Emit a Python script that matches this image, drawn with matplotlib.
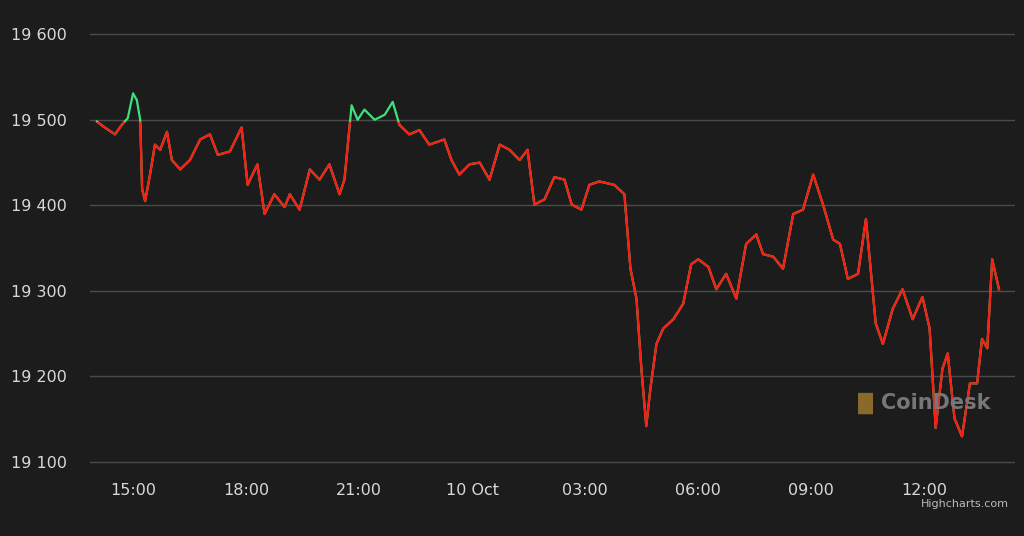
import matplotlib
matplotlib.use("Agg")
import matplotlib.pyplot as plt
from matplotlib.patches import Rectangle

# hours since 9 Oct 00:00
times = [14.04,14.25,14.52,14.7,14.86,15.0,15.1,15.19,15.24,15.32,15.45,15.58,15.72,15.9,16.03,16.25,16.51,16.78,17.04,17.25,17.57,17.88,18.04,18.3,18.49,18.75,19.02,19.16,19.42,19.69,19.95,20.21,20.48,20.61,20.8,20.96,21.14,21.41,21.68,21.89,22.07,22.33,22.6,22.86,23.26,23.45,23.66,23.93,24.2,24.46,24.73,24.99,25.26,25.47,25.65,25.92,26.18,26.45,26.64,26.9,27.11,27.37,27.77,28.04,28.2,28.36,28.49,28.62,28.73,28.89,29.07,29.34,29.6,29.81,30.0,30.27,30.48,30.74,31.01,31.27,31.54,31.72,31.99,32.25,32.52,32.78,33.05,33.31,33.58,33.76,33.97,34.24,34.45,34.71,34.9,35.16,35.42,35.69,35.95,36.14,36.3,36.48,36.62,36.8,37.0,37.21,37.4,37.53,37.67,37.8,37.98]
prices = [19498,19491,19483,19494,19502,19531,19523,19500,19419,19405,19436,19471,19465,19486,19453,19442,19453,19477,19483,19459,19463,19491,19424,19448,19390,19413,19398,19413,19395,19442,19430,19448,19413,19430,19517,19500,19512,19500,19506,19521,19494,19483,19488,19471,19477,19453,19436,19448,19450,19430,19471,19465,19453,19465,19401,19407,19433,19430,19401,19395,19424,19428,19424,19413,19326,19291,19209,19142,19186,19238,19256,19267,19285,19331,19337,19328,19302,19320,19291,19355,19366,19343,19340,19326,19390,19395,19436,19401,19360,19355,19314,19320,19384,19262,19238,19279,19302,19267,19293,19256,19140,19209,19227,19151,19130,19192,19192,19244,19233,19337,19302]
baseline = 19498
yticks = [19100,19200,19300,19400,19500,19600]
ytick_labels = ["19 100","19 200","19 300","19 400","19 500","19 600"]
xticks = [15,18,21,24,27,30,33,36]
xtick_labels = ["15:00","18:00","21:00","10 Oct","03:00","06:00","09:00","12:00"]

bg = "#1c1c1c"
fig = plt.figure(figsize=(10.24,5.36), dpi=100, facecolor=bg)
ax = fig.add_axes([0.088,0.13,0.903,0.838], facecolor=bg)
ax.set_xlim(13.86,38.4)
ax.set_ylim(19095,19620)
for y in yticks:
    ax.axhline(y, color="#4a4a4a", lw=1, zorder=0)
g, = ax.plot(times, prices, color="#3ee07c", lw=1.6, zorder=3)
r, = ax.plot(times, prices, color="#ff1a12", lw=1.6, zorder=4)
clip_r = Rectangle((13, 19000), 30, baseline-19000, transform=ax.transData)
r.set_clip_path(clip_r)
for s in ax.spines.values():
    s.set_visible(False)
ax.set_yticks(yticks)
ax.set_yticklabels(ytick_labels)
ax.set_xticks(xticks)
ax.set_xticklabels(xtick_labels)
ax.tick_params(length=0, colors="#d8d8d8", labelsize=11.5)
for lbl in ax.get_yticklabels():
    lbl.set_horizontalalignment('left')
    lbl.set_x(-0.08)
ax.tick_params(axis='x', pad=12)
fig.text(0.985, 0.055, "Highcharts.com", color="#bbbbbb", fontsize=8, ha="right")
fig.text(0.83, 0.237, "\u2590\u258c", color="#8a6a2a", fontsize=15, fontweight="bold")
fig.text(0.86, 0.237, "CoinDesk", color="#777777", fontsize=15, fontweight="bold")
fig.savefig("out.png", dpi=100, facecolor=bg)
